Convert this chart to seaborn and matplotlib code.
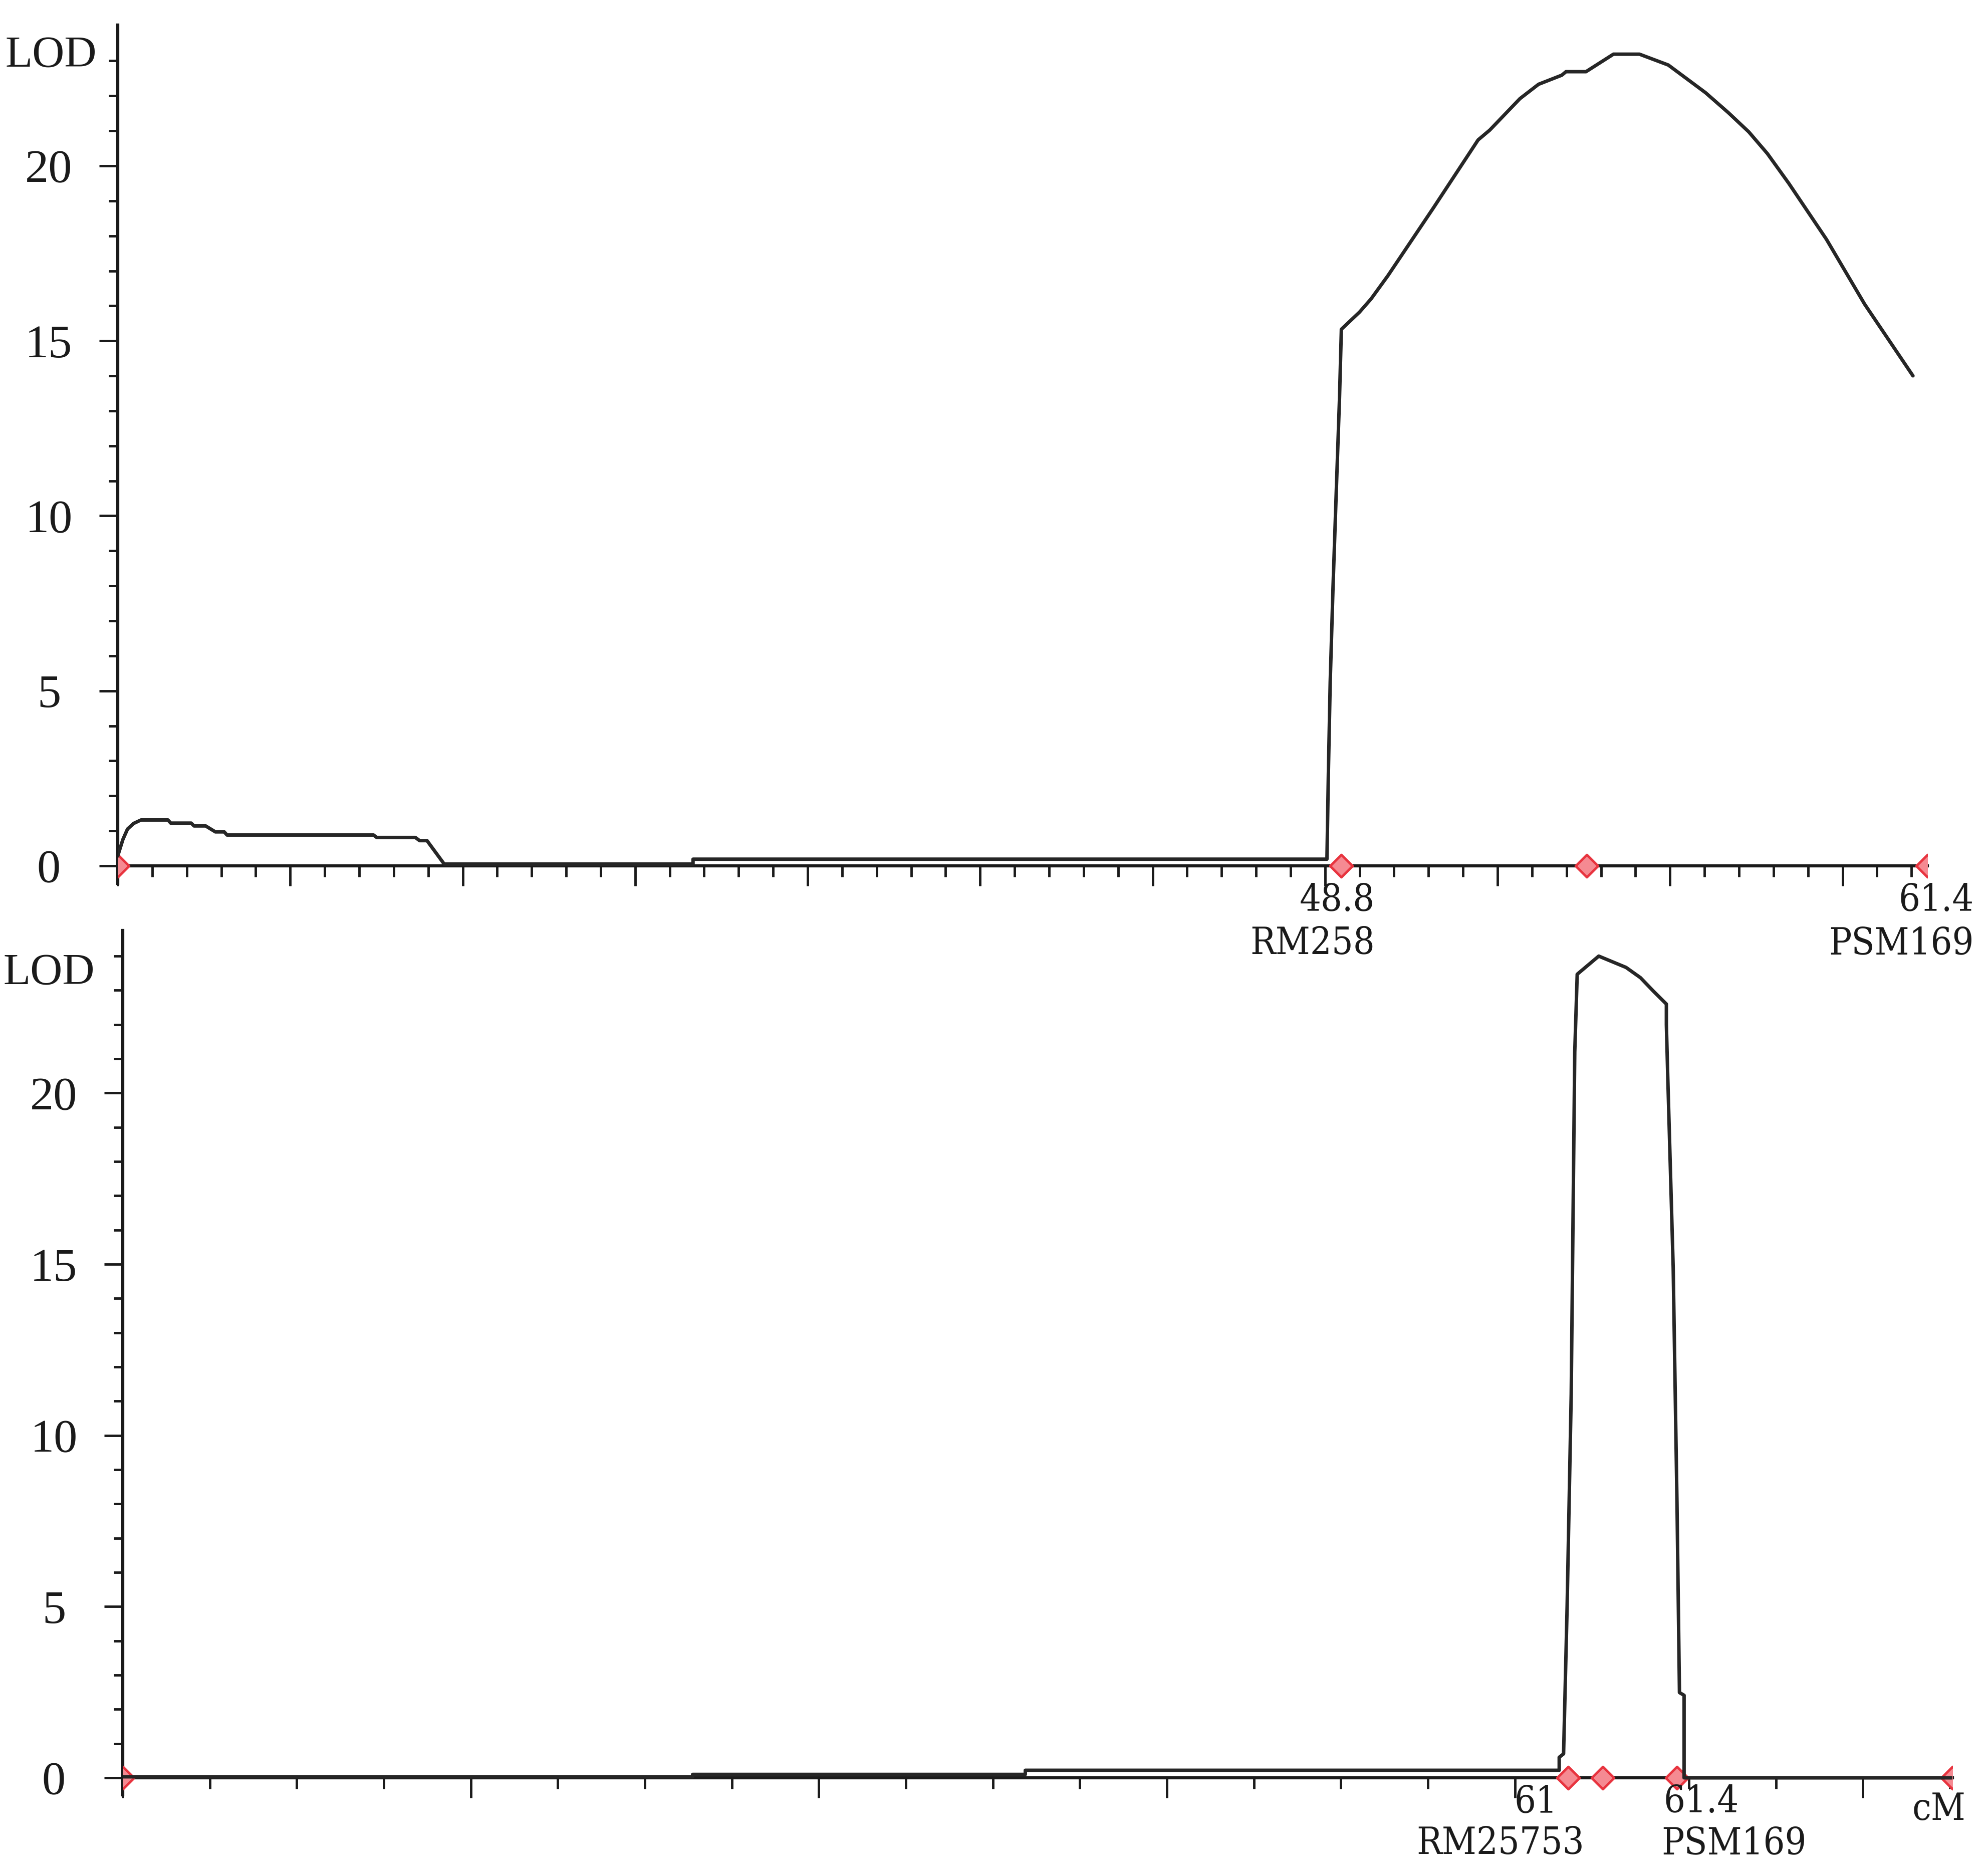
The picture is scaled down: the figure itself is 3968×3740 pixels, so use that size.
import numpy as np
import pandas as pd
import seaborn as sns
import matplotlib.pyplot as plt

# LOD profile, upper panel (position in cM, LOD)
top_pos = [22.49, 22.60, 22.70, 22.83, 22.99, 23.57, 23.63, 24.07, 24.13, 24.38,
           24.59, 24.78, 24.84, 27.99, 28.06, 28.89, 28.98, 29.14, 29.51, 34.86,
           34.86, 48.49, 48.52, 48.56, 48.62, 48.69, 48.76, 48.80, 49.19, 49.44,
           49.80, 50.78, 51.74, 51.99, 52.64, 53.04, 53.54, 53.63, 54.06, 54.65,
           55.21, 55.83, 56.63, 57.12, 57.56, 57.96, 58.42, 59.23, 60.05, 61.09]
top_lod = [0.28, 0.75, 1.05, 1.21, 1.31, 1.31, 1.22, 1.22, 1.14, 1.14,
           0.97, 0.97, 0.88, 0.88, 0.81, 0.81, 0.72, 0.72, 0.05, 0.05,
           0.19, 0.19, 2.60, 5.25, 7.94, 10.68, 13.36, 15.33, 15.82, 16.20,
           16.86, 18.80, 20.74, 21.02, 21.92, 22.33, 22.59, 22.69, 22.69, 23.19,
           23.19, 22.88, 22.09, 21.52, 20.97, 20.35, 19.50, 17.90, 16.05, 14.00]

# LOD profile, lower panel
bot_pos = [55.70, 57.79, 57.79, 59.01, 59.01, 60.968, 60.968, 60.984, 60.997, 61.012,
           61.025, 61.034, 61.113, 61.213, 61.266, 61.313, 61.361, 61.361, 61.366, 61.386,
           61.400, 61.409, 61.426, 61.426, 62.41]
bot_lod = [0.03, 0.03, 0.10, 0.10, 0.22, 0.22, 0.60, 0.70, 5.0, 11.2,
           21.2, 23.47, 24.0, 23.67, 23.37, 22.98, 22.6, 22.0, 20.5, 14.9,
           8.0, 2.49, 2.41, 0.0, 0.0]

# markers on the linkage map
top_markers = [22.49, 48.8, 54.08, 61.4]
bot_markers = [55.70, 61.0, 61.128, 61.4, 62.41]

y_major = [0, 5, 10, 15, 20]
y_labels = ["0", "5", "10", "15", "20"]

sns.set_style("ticks")
plt.rcParams['font.family'] = ['Liberation Serif', 'DejaVu Serif']

LINE = '#262626'
RED = '#e8343f'
INK = '#1a1a1a'
lab_font = dict(family=['DejaVu Serif'], stretch='condensed', fontsize=54, color=INK)

fig = plt.figure(figsize=(39.68, 37.40), dpi=100)
ax1 = fig.add_axes([0.05922, 0.52864, 0.91028, 0.45795])
ax2 = fig.add_axes([0.06174, 0.04219, 0.92036, 0.46131])


def style_axis(ax, xlim, ytop, step, every, ymin_top):
    ax.set_xlim(*xlim)
    ax.set_ylim(-0.5, ytop)
    ax.patch.set_visible(False)
    sns.despine(ax=ax)
    ax.spines['bottom'].set_position(('data', 0))
    for s in ['left', 'bottom']:
        ax.spines[s].set_linewidth(4.5)
        ax.spines[s].set_color(INK)
    ticks = np.arange(xlim[0], xlim[1] + step * 0.5, step)
    ax.set_xticks(ticks[::every])
    ax.set_xticks(ticks, minor=True)
    ax.set_xticklabels([])
    ax.set_yticks(y_major)
    ax.set_yticklabels(y_labels)
    ax.set_yticks(np.arange(0, ymin_top + 1, 1), minor=True)
    ax.tick_params(axis='x', which='major', length=29, width=3.5, direction='out', color=INK)
    ax.tick_params(axis='x', which='minor', length=16, width=3.5, direction='out', color=INK)
    ax.tick_params(axis='y', which='major', length=27, width=3.5, direction='out',
                   color=INK, labelsize=68, pad=72, labelcolor=INK)
    ax.tick_params(axis='y', which='minor', length=13, width=3.5, direction='out', color=INK)
    for t in ax.get_yticklabels():
        t.set_horizontalalignment('center')
    ax.set_xlabel('')
    ax.set_ylabel('')


def draw(ax, pos, lod, markers):
    sns.scatterplot(x=markers, y=[0] * len(markers), ax=ax, marker='D', s=520,
                    color='#f58a92', edgecolor=RED, linewidth=3.5, zorder=3)
    df = pd.DataFrame({'pos': pos, 'lod': lod})
    sns.lineplot(data=df, x='pos', y='lod', ax=ax, sort=False, estimator=None,
                 color=LINE, linewidth=5, zorder=4)


draw(ax1, top_pos, top_lod, top_markers)
style_axis(ax1, (22.49, 61.4), 24.02, 0.7417, 5, 23)
draw(ax2, bot_pos, bot_lod, bot_markers)
style_axis(ax2, (55.70, 62.41), 24.75, 0.3191, 4, 24)

# y-axis titles
for ax, yv, dx in [(ax1, 23.15, -30), (ax2, 23.5, -40)]:
    ax.annotate('LOD', xy=(0, yv), xycoords=ax.get_yaxis_transform(),
                xytext=(dx, 0), textcoords='offset points',
                ha='right', va='center', fontsize=64, color=INK,
                annotation_clip=False)


def label(ax, x, txt, dx, dy, ha):
    ax.annotate(txt, xy=(x, 0), xycoords='data', xytext=(dx, dy),
                textcoords='offset points', ha=ha, va='center',
                annotation_clip=False, zorder=10, **lab_font)


# marker labels (offsets in points)
label(ax1, 48.8, '48.8', 48, -50, 'right')
label(ax1, 48.8, 'RM258', 48, -112, 'right')
label(ax1, 61.4, '61.4', 67, -50, 'right')
label(ax1, 61.4, 'PSM169', 67, -112, 'right')
label(ax2, 61.0, '61', -15, -35, 'right')
label(ax2, 61.0, 'RM25753', 23, -95, 'right')
label(ax2, 61.4, '61.4', -19, -35, 'left')
label(ax2, 61.4, 'PSM169', -22, -95, 'left')
label(ax2, 62.41, 'cM', 19, -46, 'right')

fig.savefig('out.png', dpi=100, facecolor='white')
